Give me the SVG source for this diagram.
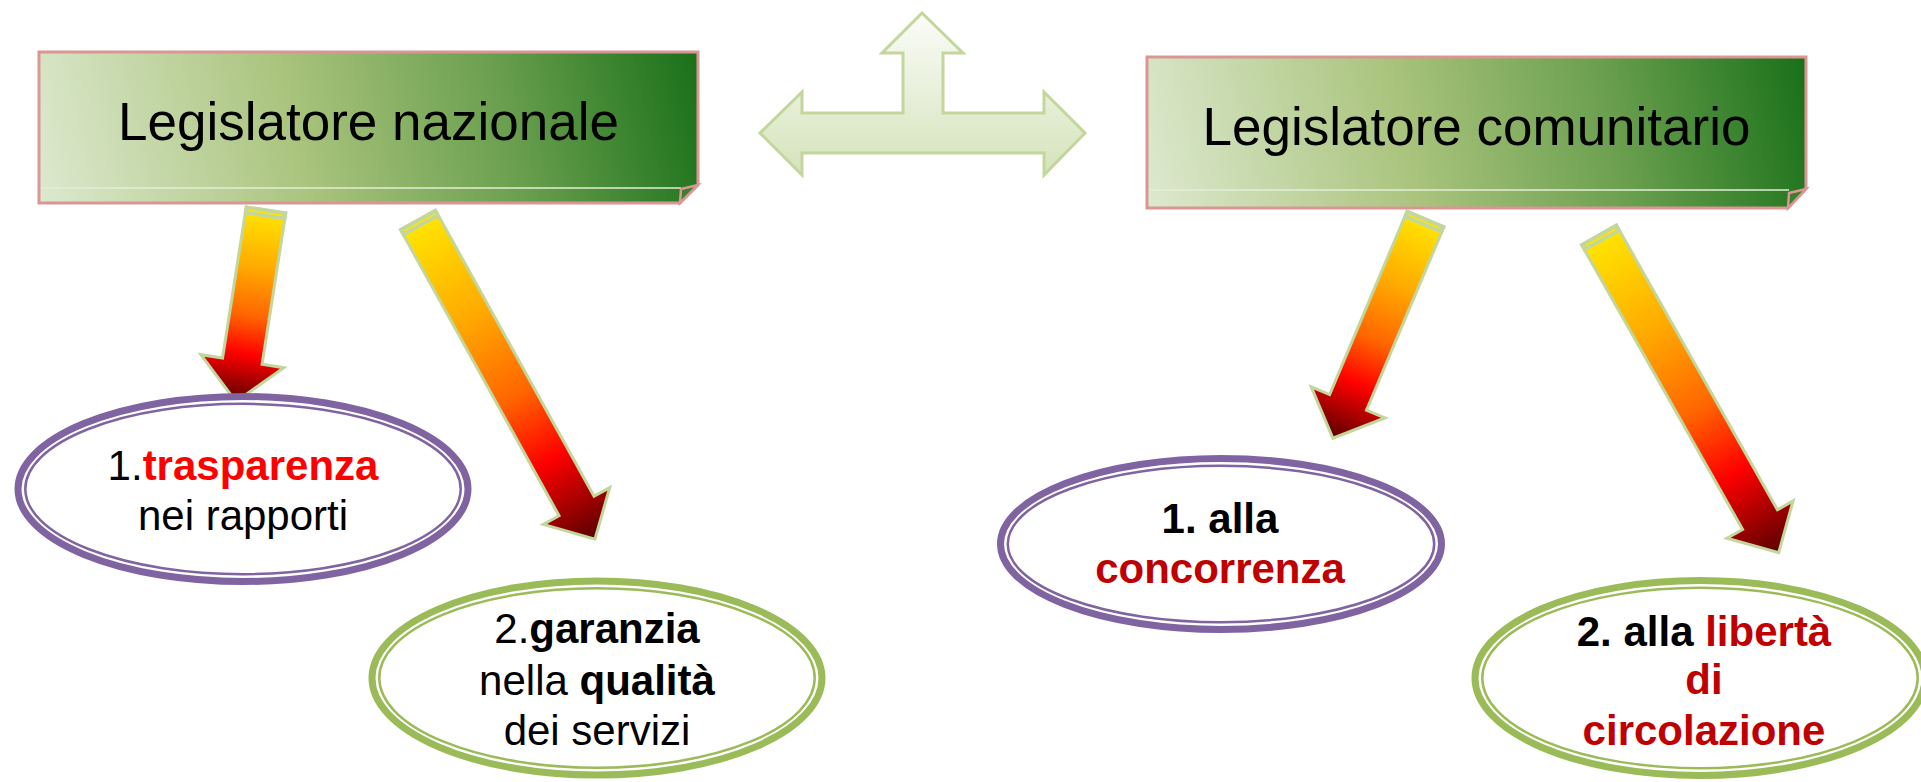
<svg xmlns="http://www.w3.org/2000/svg" width="1921" height="782" viewBox="0 0 1921 782">
<defs>
<linearGradient id="boxGrad1" gradientUnits="userSpaceOnUse" x1="39" y1="203" x2="698" y2="52">
<stop offset="0" stop-color="#dde9cf"/>
<stop offset="0.4" stop-color="#a9c37c"/>
<stop offset="0.7" stop-color="#6a9f4e"/>
<stop offset="1" stop-color="#197019"/>
</linearGradient>
<linearGradient id="boxGrad2" href="#boxGrad1" gradientUnits="userSpaceOnUse" x1="1147" y1="208" x2="1806" y2="57"/>
<linearGradient id="triGrad" x1="0" y1="0" x2="0" y2="1">
<stop offset="0" stop-color="#fbfcf8"/>
<stop offset="1" stop-color="#d5e3bb"/>
</linearGradient>
<linearGradient id="arrowGrad" x1="0" y1="0" x2="0" y2="1">
<stop offset="0" stop-color="#ffe600"/>
<stop offset="0.3" stop-color="#ffaa00"/>
<stop offset="0.55" stop-color="#ff6600"/>
<stop offset="0.75" stop-color="#ff0000"/>
<stop offset="1" stop-color="#5a0000"/>
</linearGradient>
<style>
.box{stroke:#d99694;stroke-width:3;stroke-linejoin:miter}
.fold{fill:#3e7e2e;stroke:#d99694;stroke-width:2.5}
.strip{stroke:#e3eed6;stroke-width:1.5;fill:none}
.head{font-family:"Liberation Sans",Arial,sans-serif;font-size:53px;fill:#000;text-anchor:middle}
.arr{fill:url(#arrowGrad);stroke:#c3d69b;stroke-width:3;stroke-linejoin:miter}
.cap{fill:#c3d69b}
.capl{stroke:#ffe600;stroke-width:1.5}
.tri{fill:url(#triGrad);stroke:#c3d69b;stroke-width:3}
.outerP{fill:#fff;stroke:#8064a2;stroke-width:7}
.innerP{fill:none;stroke:#8064a2;stroke-width:2.5}
.outerG{fill:#fff;stroke:#9bbb59;stroke-width:7}
.innerG{fill:none;stroke:#9bbb59;stroke-width:2.5}
.lbl{font-family:"Liberation Sans",Arial,sans-serif;font-size:42px;fill:#000;text-anchor:middle}
.b{font-weight:bold}
.red{fill:#ff0000}
.dred{fill:#c00000}
</style>
</defs>

<g id="box-nazionale">
<path class="box" fill="url(#boxGrad1)" d="M39,52 H698 V185 L680,203 H39 Z"/>
<line class="strip" x1="41" y1="188" x2="681" y2="188"/>
<polygon class="fold" points="681,189 698,185 680,203"/>
<text class="head" x="368.5" y="140">Legislatore nazionale</text>
</g>

<g id="box-comunitario">
<path class="box" fill="url(#boxGrad2)" d="M1147,57 H1806 V189 L1788,208 H1147 Z"/>
<line class="strip" x1="1149" y1="190" x2="1789" y2="190"/>
<polygon class="fold" points="1789,193 1806,189 1788,208"/>
<text class="head" x="1476.5" y="145">Legislatore comunitario</text>
</g>

<g id="triple-arrow">
<polygon class="tri" points="922,13 963,53 943,53 943,113 1044,113 1044,92 1085,133 1044,175 1044,153 802,153 802,175 760,133 802,92 802,113 903,113 903,53 882,53"/>
</g>

<g id="connectors">
<g transform="translate(266,210) rotate(8.9)">
<polygon class="arr" points="-20,0 20,0 20,153 42,153 0,194 -42,153 -20,153"/>
<rect class="cap" x="-21.5" y="-1.5" width="43" height="9"/>
<line class="capl" x1="-17" y1="3" x2="17" y2="3"/>
</g>
<g transform="translate(418,220) rotate(-29)">
<polygon class="arr" points="-20,0 20,0 20,327 38,327 0,365 -38,327 -20,327"/>
<rect class="cap" x="-21.5" y="-1.5" width="43" height="9"/>
<line class="capl" x1="-17" y1="3" x2="17" y2="3"/>
</g>
<g transform="translate(1425.5,219) rotate(22.9)">
<polygon class="arr" points="-20,0 20,0 20,199 40,199 0,238 -40,199 -20,199"/>
<rect class="cap" x="-21.5" y="-1.5" width="43" height="9"/>
<line class="capl" x1="-17" y1="3" x2="17" y2="3"/>
</g>
<g transform="translate(1599,235) rotate(-29.5)">
<polygon class="arr" points="-20,0 20,0 20,327 38,327 0,365 -38,327 -20,327"/>
<rect class="cap" x="-21.5" y="-1.5" width="43" height="9"/>
<line class="capl" x1="-17" y1="3" x2="17" y2="3"/>
</g>
</g>

<g id="ellipse-trasparenza">
<ellipse class="outerP" cx="243" cy="489" rx="225" ry="92.5"/>
<ellipse class="innerP" cx="243" cy="489" rx="217.7" ry="85.2"/>
<text class="lbl" x="243" y="480">1.<tspan class="b red">trasparenza</tspan></text>
<text class="lbl" x="243" y="530">nei rapporti</text>
</g>

<g id="ellipse-garanzia">
<ellipse class="outerG" cx="597" cy="678" rx="225" ry="97"/>
<ellipse class="innerG" cx="597" cy="678" rx="217.7" ry="89.7"/>
<text class="lbl" x="597" y="643">2.<tspan class="b">garanzia</tspan></text>
<text class="lbl" x="597" y="695">nella <tspan class="b">qualità</tspan></text>
<text class="lbl" x="597" y="745">dei servizi</text>
</g>

<g id="ellipse-concorrenza">
<ellipse class="outerP" cx="1221" cy="544" rx="220.5" ry="85.5"/>
<ellipse class="innerP" cx="1221" cy="544" rx="213.2" ry="78.2"/>
<text class="lbl b" x="1220" y="533">1. alla</text>
<text class="lbl b dred" x="1220" y="583">concorrenza</text>
</g>

<g id="ellipse-liberta">
<ellipse class="outerG" cx="1700" cy="678" rx="225" ry="97.5"/>
<ellipse class="innerG" cx="1700" cy="678" rx="217.7" ry="90.2"/>
<text class="lbl b" x="1704" y="646">2. alla <tspan class="dred">libertà</tspan></text>
<text class="lbl b dred" x="1704" y="694">di</text>
<text class="lbl b dred" x="1704" y="745">circolazione</text>
</g>
</svg>
